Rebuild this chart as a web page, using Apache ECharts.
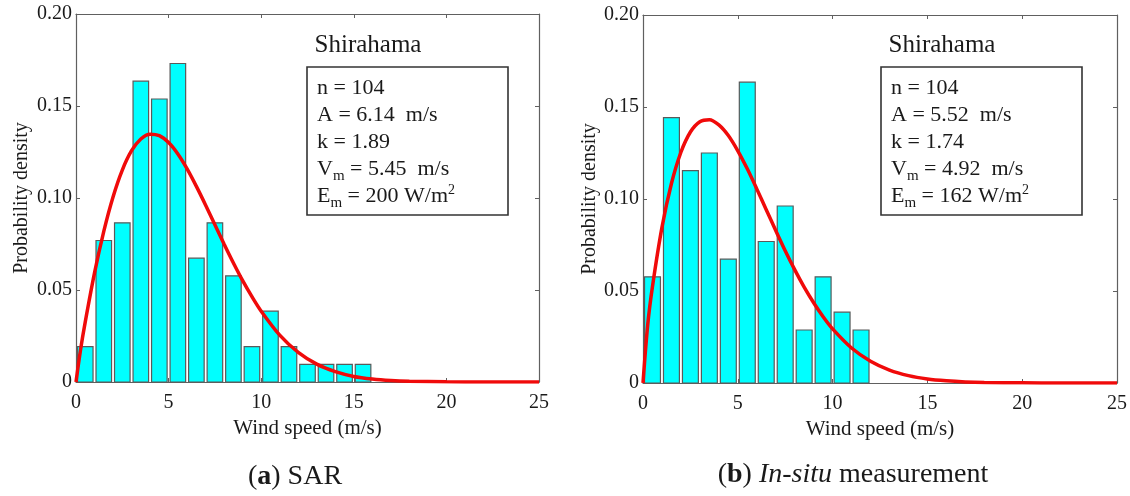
<!DOCTYPE html>
<html>
<head>
<meta charset="utf-8">
<script src="https://cdn.jsdelivr.net/npm/echarts@6/dist/echarts.min.js"></script>
<style>
  html, body { margin: 0; padding: 0; background: #ffffff; }
  #chart { width: 1130px; height: 496px; }
</style>
</head>
<body>
<div id="chart"></div>
<script>
// Wind speed distributions at Shirahama: 1 m/s histogram bins and fitted Weibull curves.

// Histogram bin centres (m/s) and probability densities
const sarBinCenters = [0.5, 1.5, 2.5, 3.5, 4.5, 5.5, 6.5, 7.5, 8.5, 9.5, 10.5, 11.5, 12.5, 13.5, 14.5, 15.5];
const sarDensity = [0.0192, 0.0769, 0.0865, 0.1635, 0.1538, 0.1731, 0.0673, 0.0865,
                    0.0577, 0.0192, 0.0385, 0.0192, 0.0096, 0.0096, 0.0096, 0.0096];

const insituBinCenters = [0.5, 1.5, 2.5, 3.5, 4.5, 5.5, 6.5, 7.5, 8.5, 9.5, 10.5, 11.5];
const insituDensity = [0.0577, 0.1442, 0.1154, 0.1250, 0.0673, 0.1635, 0.0769, 0.0962,
                       0.0288, 0.0577, 0.0385, 0.0288];

// Fitted Weibull curves sampled along wind speed
const curveSpeed = [0, 0.25, 0.5, 1, 1.5, 2, 2.5, 3, 3.5, 4, 4.5, 5, 5.5, 6, 6.5, 7, 7.5, 8,
                    8.5, 9, 9.5, 10, 11, 12, 13, 14, 15, 16, 17, 18, 20, 22, 25];
const sarCurve = [0, 0.0178, 0.0327, 0.0593, 0.0819, 0.1006, 0.1152, 0.1257, 0.1321, 0.1347,
                  0.1339, 0.1301, 0.1239, 0.1158, 0.1063, 0.0961, 0.0855, 0.0749, 0.0647,
                  0.0551, 0.0464, 0.0385, 0.0255, 0.0161, 0.0097, 0.0056, 0.0030, 0.0016,
                  0.0008, 0.0004, 0.0001, 0.0000, 0.0000];
const insituCurve = [0, 0.0318, 0.0525, 0.0846, 0.1084, 0.1254, 0.1364, 0.1420, 0.1431, 0.1403,
                     0.1345, 0.1262, 0.1164, 0.1055, 0.0942, 0.0829, 0.0719, 0.0616, 0.0521,
                     0.0436, 0.0360, 0.0294, 0.0190, 0.0118, 0.0070, 0.0040, 0.0022, 0.0012,
                     0.0006, 0.0003, 0.0001, 0.0000, 0.0000];

// Axis ticks
const speedTicks = [0, 5, 10, 15, 20, 25];
const densityTicks = [0, 0.05, 0.10, 0.15, 0.20];

// Fit statistics: [symbol, subscript, rest, superscript]
const siteName = 'Shirahama';
const sarStats = [
  ['n', '', ' = 104', ''],
  ['A', '', ' = 6.14  m/s', ''],
  ['k', '', ' = 1.89', ''],
  ['V', 'm', ' = 5.45  m/s', ''],
  ['E', 'm', ' = 200 W/m', '2']
];
const insituStats = [
  ['n', '', ' = 104', ''],
  ['A', '', ' = 5.52  m/s', ''],
  ['k', '', ' = 1.74', ''],
  ['V', 'm', ' = 4.92  m/s', ''],
  ['E', 'm', ' = 162 W/m', '2']
];

const FONT = 'Liberation Serif, Times New Roman, serif';
const TEXT_COLOR = '#1a1a1a';
const AXIS_COLOR = '#606060';
const BAR_FILL = '#00ffff';
const BAR_EDGE = '#5a5a5a';
const CURVE_COLOR = '#f00a0a';
const BAR_FRACTION = 0.84;

const chart = echarts.init(document.getElementById('chart'), null, { renderer: 'canvas' });

function xAxisFor(grid, position, main) {
  return {
    type: 'value', gridIndex: grid, position: position,
    min: speedTicks[0], max: speedTicks[speedTicks.length - 1],
    interval: speedTicks[1] - speedTicks[0],
    axisLine: { show: true, onZero: false, lineStyle: { color: AXIS_COLOR, width: 1.2 } },
    axisTick: { show: true, inside: true, length: 4, lineStyle: { color: AXIS_COLOR, width: 1 } },
    axisLabel: { show: main, margin: 11, fontFamily: FONT, fontSize: 20, color: TEXT_COLOR },
    splitLine: { show: false },
    name: main ? 'Wind speed (m/s)' : '',
    nameLocation: 'middle', nameGap: 35,
    nameTextStyle: { fontFamily: FONT, fontSize: 21, color: TEXT_COLOR }
  };
}

function yAxisFor(grid, position, main, gap) {
  return {
    type: 'value', gridIndex: grid, position: position,
    min: densityTicks[0], max: densityTicks[densityTicks.length - 1],
    interval: densityTicks[1] - densityTicks[0],
    axisLine: { show: true, onZero: false, lineStyle: { color: AXIS_COLOR, width: 1.2 } },
    axisTick: { show: true, inside: true, length: 4, lineStyle: { color: AXIS_COLOR, width: 1 } },
    axisLabel: {
      show: main, margin: 4, fontFamily: FONT, fontSize: 20, color: TEXT_COLOR,
      padding: [6, 0, 0, 0],
      formatter: v => (v === 0 ? '0' : v.toFixed(2))
    },
    splitLine: { show: false },
    name: main ? 'Probability density' : '',
    nameLocation: 'middle', nameGap: gap, nameRotate: 90,
    nameTextStyle: { fontFamily: FONT, fontSize: 20, color: TEXT_COLOR }
  };
}

function renderBar(params, api) {
  const c = api.value(0);
  const v = api.value(1);
  const half = BAR_FRACTION / 2;
  const p0 = api.coord([c - half, v]);
  const p1 = api.coord([c + half, 0]);
  return {
    type: 'rect',
    shape: { x: p0[0], y: p0[1], width: p1[0] - p0[0], height: p1[1] - p0[1] },
    style: { fill: BAR_FILL, stroke: BAR_EDGE, lineWidth: 1.2 }
  };
}

function statsText(stats) {
  return stats.map(([sym, sub, rest, sup]) =>
    '{t|' + sym + '}' + (sub ? '{sub|' + sub + '}' : '') + '{t|' + rest + '}' + (sup ? '{sup|' + sup + '}' : '')
  ).join('\n');
}

const statsRich = {
  t: { fontFamily: FONT, fontSize: 22, lineHeight: 27, fill: TEXT_COLOR, color: TEXT_COLOR },
  sub: { fontFamily: FONT, fontSize: 15, lineHeight: 14, padding: [13, 0, 0, 0], fill: TEXT_COLOR, color: TEXT_COLOR },
  sup: { fontFamily: FONT, fontSize: 14, lineHeight: 13, padding: [0, 0, 12, 0], fill: TEXT_COLOR, color: TEXT_COLOR }
};

function panelGraphics(nameX, boxX, boxW, stats) {
  return [
    {
      type: 'text', x: nameX, y: 45, z: 20,
      style: { text: siteName, font: '25px ' + FONT, fill: TEXT_COLOR, align: 'center', verticalAlign: 'middle' }
    },
    {
      type: 'rect', z: 20,
      shape: { x: boxX, y: 67, width: boxW, height: 148 },
      style: { fill: '#ffffff', stroke: '#333333', lineWidth: 1.6 }
    },
    {
      type: 'text', x: boxX + 10, y: 75, z: 21,
      style: { text: statsText(stats), rich: statsRich, align: 'left', verticalAlign: 'top' }
    }
  ];
}

const captionRich = {
  n: { fontFamily: FONT, fontSize: 28, fill: TEXT_COLOR, color: TEXT_COLOR },
  b: { fontFamily: FONT, fontSize: 28, fontWeight: 'bold', fill: TEXT_COLOR, color: TEXT_COLOR },
  i: { fontFamily: FONT, fontSize: 28, fontStyle: 'italic', fill: TEXT_COLOR, color: TEXT_COLOR }
};

const option = {
  backgroundColor: '#ffffff',
  animation: false,
  grid: [
    { left: 76, top: 14, width: 463, height: 368 },
    { left: 643, top: 15, width: 474, height: 368 }
  ],
  xAxis: [
    xAxisFor(0, 'bottom', true), xAxisFor(0, 'top', false),
    xAxisFor(1, 'bottom', true), xAxisFor(1, 'top', false)
  ],
  yAxis: [
    yAxisFor(0, 'left', true, 44), yAxisFor(0, 'right', false, 0),
    yAxisFor(1, 'left', true, 41), yAxisFor(1, 'right', false, 0)
  ],
  series: [
    {
      type: 'custom', name: 'SAR histogram', xAxisIndex: 0, yAxisIndex: 0,
      renderItem: renderBar, encode: { x: 0, y: 1 }, z: 2,
      data: sarBinCenters.map((c, i) => [c, sarDensity[i]])
    },
    {
      type: 'line', name: 'SAR Weibull', xAxisIndex: 0, yAxisIndex: 0,
      showSymbol: false, smooth: 0.3, z: 5,
      lineStyle: { color: CURVE_COLOR, width: 3.5 },
      data: curveSpeed.map((x, i) => [x, sarCurve[i]])
    },
    {
      type: 'custom', name: 'In-situ histogram', xAxisIndex: 2, yAxisIndex: 2,
      renderItem: renderBar, encode: { x: 0, y: 1 }, z: 2,
      data: insituBinCenters.map((c, i) => [c, insituDensity[i]])
    },
    {
      type: 'line', name: 'In-situ Weibull', xAxisIndex: 2, yAxisIndex: 2,
      showSymbol: false, smooth: 0.3, z: 5,
      lineStyle: { color: CURVE_COLOR, width: 3.5 },
      data: curveSpeed.map((x, i) => [x, insituCurve[i]])
    }
  ],
  graphic: [
    ...panelGraphics(368, 307, 201, sarStats),
    ...panelGraphics(942, 881, 201, insituStats),
    {
      type: 'text', x: 295, y: 477,
      style: { text: '{n|(}{b|a}{n|) SAR}', rich: captionRich, align: 'center', verticalAlign: 'middle' }
    },
    {
      type: 'text', x: 853, y: 475,
      style: { text: '{n|(}{b|b}{n|) }{i|In-situ}{n| measurement}', rich: captionRich, align: 'center', verticalAlign: 'middle' }
    }
  ]
};

chart.setOption(option);
</script>
</body>
</html>
